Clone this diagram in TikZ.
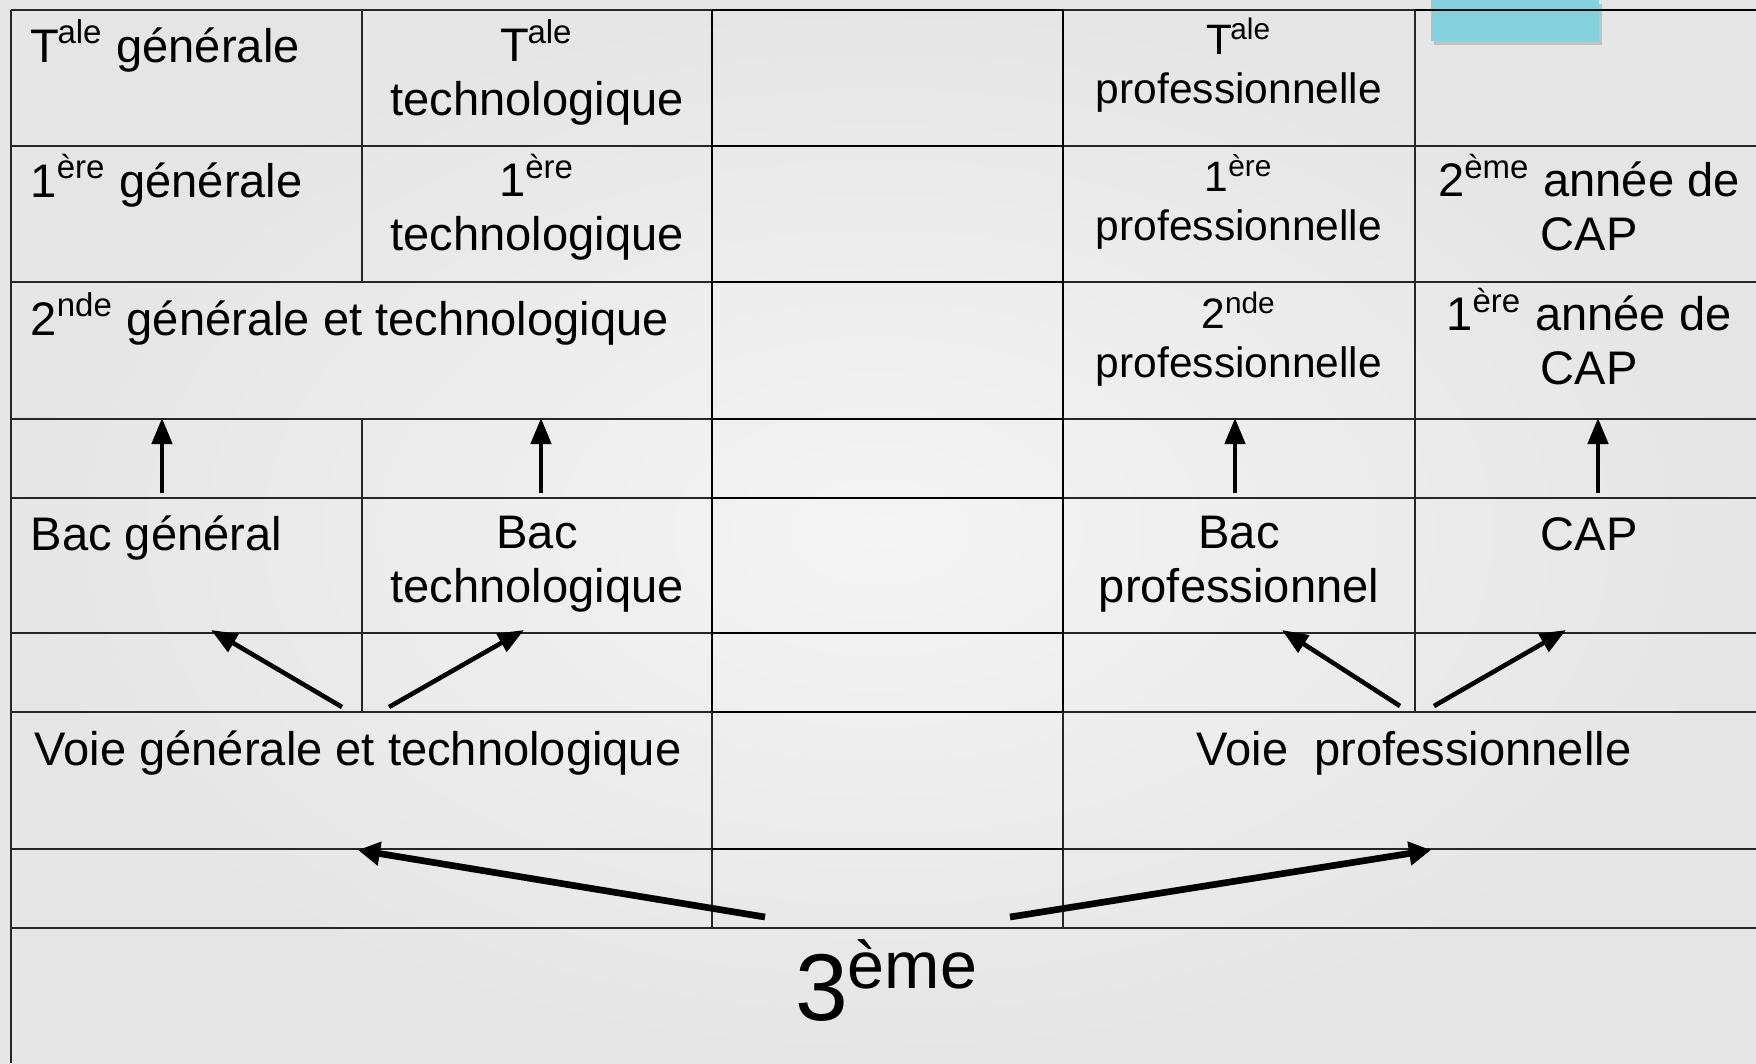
\documentclass[tikz,border=0pt]{standalone}
\usepackage{fontspec}
\setmainfont{Liberation Sans}
\usetikzlibrary{arrows.meta,shadows}

\definecolor{fond}{HTML}{F4F4F4}
\definecolor{fondbord}{HTML}{E5E5E5}
\definecolor{cyanbox}{HTML}{84D1DE}
\newcommand{\expo}[1]{\textsuperscript{#1}}
\newcommand{\Tale}{T\kern-0.04em\expo{ale}}

\begin{document}
\begin{tikzpicture}[x=0.1mm, y=-0.1mm,
  txt/.style={inner sep=0pt, font=\fontsize{13.4}{15.1}\selectfont},
  txtp/.style={inner sep=0pt, font=\fontsize{12.1}{13.7}\selectfont},
  lft/.style={txt, anchor=base west},
  ctr/.style={txt, align=center, anchor=base},
  ctrp/.style={txtp, align=center, anchor=base},
  trait/.style={line width=0.35pt, black!85},
  epais/.style={line width=0.8pt, black},
  fleche/.style={-{Triangle[length=2.6mm, width=2mm]}, line width=1.3pt},
  grosse/.style={-{Triangle[length=2.2mm, width=2.3mm]}, line width=1.9pt}]

\useasboundingbox (0,0) rectangle (1756,1063);

% Fond et onglet
\shade[inner color=fond, outer color=fondbord] (0,0) rectangle (1756,1063);
\fill[cyanbox, drop shadow={opacity=0.35, shadow xshift=0.3mm, shadow yshift=-0.4mm}] (1431,0) rectangle (1599,41);

% Lignes du tableau
\foreach \y in {10,146,282,419,498,633,712,849,928}
  \draw[trait] (11,\y) -- (1756,\y);
\draw[trait] (11,10) -- (11,1063);
\draw[trait] (362,10) -- (362,282);
\draw[trait] (362,419) -- (362,712);
\draw[trait] (712,10) -- (712,928);
\draw[trait] (1063,10) -- (1063,928);
\draw[trait] (1415,10) -- (1415,712);

% Colonne du milieu
\foreach \y in {10,146,282,419,498,633,712,849}
  \draw[epais] (712,\y) -- (1063,\y);
\draw[epais] (712,10) -- (712,712);
\draw[epais] (1063,10) -- (1063,712);
\draw[epais] (1415,10) -- (1756,10);

% Terminales (ancre base = derniere ligne)
\node[lft] (tg) at (30,62) {\Tale{} générale};
\node[ctr] (tt) at (537,115) {\Tale\\technologique};
\node[ctrp] (tp) at (1239,103) {\Tale\\professionnelle};

% Premieres
\node[lft] (pg) at (30,197) {1\expo{ère} générale};
\node[ctr] (pt) at (537,250) {1\expo{ère}\\technologique};
\node[ctrp] (pp) at (1239,240) {1\expo{ère}\\professionnelle};
\node[ctr] (cap2) at (1589,250) {2\expo{ème} année de\\CAP};

% Secondes
\node[lft] (sgt) at (30,335) {2\expo{nde} générale et technologique};
\node[ctrp] (sp) at (1239,377) {2\expo{nde}\\professionnelle};
\node[ctr] (cap1) at (1589,384) {1\expo{ère} année de\\CAP};

% Diplomes
\node[lft] (bg) at (30,550) {Bac général};
\node[ctr] (bt) at (537,602) {Bac\\technologique};
\node[ctr] (bp) at (1239,602) {Bac\\professionnel};
\node[ctr] (cap) at (1589,550) {CAP};

% Voies
\node[lft] (vgt) at (34,765) {Voie générale et technologique};
\node[ctr] (vp) at (1414,765) {Voie\ \ professionnelle};

% Troisieme
\node[inner sep=0pt, anchor=base, font=\fontsize{27}{30}\selectfont] (trois) at (887,1020) {3\expo{ème}};

% Extremites des fleches
\coordinate (u1a) at (162,493);  \coordinate (u1b) at (162,418);
\coordinate (u2a) at (541,493);  \coordinate (u2b) at (541,418);
\coordinate (u3a) at (1235,493); \coordinate (u3b) at (1235,418);
\coordinate (u4a) at (1598,493); \coordinate (u4b) at (1598,418);
\coordinate (d1a) at (342,707);  \coordinate (d1b) at (211,630);
\coordinate (d2a) at (389,707);  \coordinate (d2b) at (524,630);
\coordinate (d3a) at (1400,706); \coordinate (d3b) at (1282,630);
\coordinate (d4a) at (1434,706); \coordinate (d4b) at (1566,630);
\coordinate (v1a) at (765,917);  \coordinate (v1b) at (358,850);
\coordinate (v2a) at (1010,917); \coordinate (v2b) at (1431,850);

% Fleches
\draw[fleche] (u1a) -- (u1b);
\draw[fleche] (u2a) -- (u2b);
\draw[fleche] (u3a) -- (u3b);
\draw[fleche] (u4a) -- (u4b);
\draw[fleche] (d1a) -- (d1b);
\draw[fleche] (d2a) -- (d2b);
\draw[fleche] (d3a) -- (d3b);
\draw[fleche] (d4a) -- (d4b);
\draw[grosse] (v1a) -- (v1b);
\draw[grosse] (v2a) -- (v2b);

\end{tikzpicture}
\end{document}
